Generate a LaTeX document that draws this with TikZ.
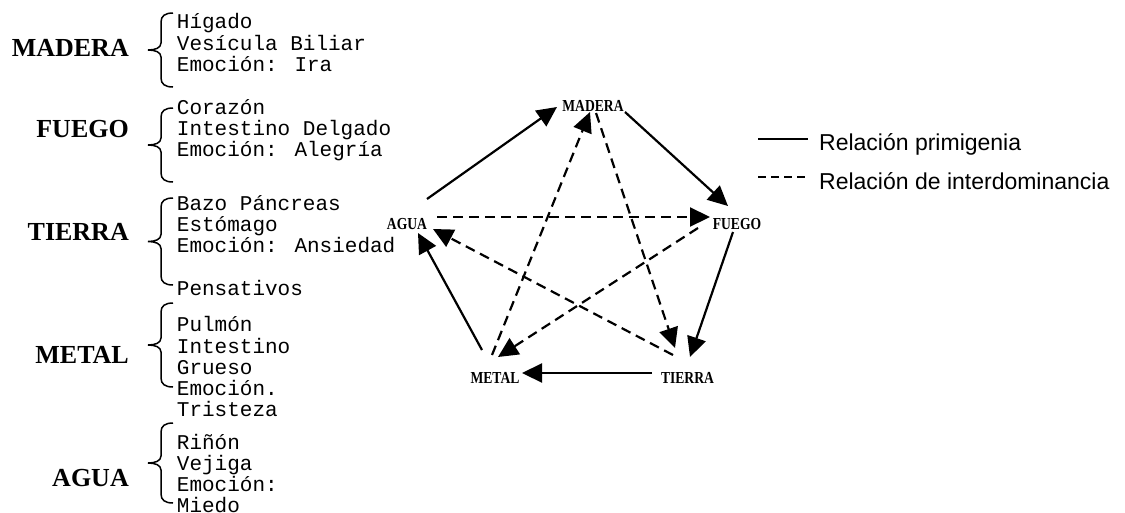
\documentclass[tikz,border=0pt]{standalone}
\usepackage{fontspec}
\setmainfont{Liberation Serif}
\newfontfamily\monof{Liberation Mono}
\newfontfamily\sansf{Liberation Sans}
\usetikzlibrary{arrows.meta,calc}

\newcommand\wbrace[2]{%
  \pgfmathsetmacro\brmid{(#1+#2)/2}%
  \draw[bracestyle] (173,#1) .. controls (165,#1) and (161,#1+3) .. (161,#1+9)
    -- (161,\brmid-7) .. controls (161,\brmid-2) and (155,\brmid) .. (148,\brmid)
    .. controls (155,\brmid) and (161,\brmid+2) .. (161,\brmid+7)
    -- (161,#2-9) .. controls (161,#2-3) and (165,#2) .. (173,#2);}

\tikzset{
  elem/.style={font=\bfseries\fontsize{26}{26}\selectfont, anchor=base east, inner sep=0pt},
  organ/.style={anchor=base west, inner sep=0pt},
  pent/.style={font=\bfseries\fontsize{16}{16}\selectfont, inner sep=0pt},
  conn/.style={line width=2.2pt, -{Triangle[length=20pt,width=19pt]}},
  dconn/.style={conn, dash pattern=on 10pt off 6pt},
  legtext/.style={font=\sansf\fontsize{23}{23}\selectfont, anchor=base west, inner sep=0pt},
  bracestyle/.style={line width=1.5pt},
}
\newcommand\orgtext[1]{\parbox[t]{300pt}{\monof\fontsize{21}{21.3}\selectfont\raggedright #1}}

\begin{document}
\begin{tikzpicture}[x=1pt,y=-1pt]
\useasboundingbox (0,0) rectangle (1125,512);
\clip (0,0) rectangle (1125,512);

% left column: element labels
\node[elem] (lMADERA) at (129,56) {MADERA};
\node[elem] (lFUEGO) at (129,137) {FUEGO};
\node[elem] (lTIERRA) at (129,240) {TIERRA};
\node[elem] (lMETAL) at (129,363) {METAL};
\node[elem] (lAGUA) at (129,486) {AGUA};

% braces
\wbrace{13}{87}
\wbrace{108}{182}
\wbrace{198}{285}
\wbrace{303}{387}
\wbrace{423}{503}

% organ texts
\node[organ] (oMADERA) at (176.7,28.7) {\orgtext{Hígado\\Vesícula Biliar\\Emoción: Ira}};
\node[organ] (oFUEGO) at (176.7,114) {\orgtext{Corazón\\Intestino Delgado\\Emoción: Alegría}};
\node[organ] (oTIERRA) at (176.7,210) {\orgtext{Bazo Páncreas\\Estómago\\Emoción: Ansiedad\\\mbox{}\\Pensativos}};
\node[organ] (oMETAL) at (176.7,331.7) {\orgtext{Pulmón\\Intestino\\Grueso\\Emoción.\\Tristeza}};
\node[organ] (oAGUA) at (176.7,449) {\orgtext{Riñón\\Vejiga\\Emoción:\\Miedo}};

% pentagon nodes
\node[pent] (pMADERA) at (593,105.5) {\scalebox{0.85}[1.05]{MADERA}};
\node[pent] (pAGUA) at (407,224) {\scalebox{0.85}[1.05]{AGUA}};
\node[pent] (pFUEGO) at (737,224) {\scalebox{0.85}[1.05]{FUEGO}};
\node[pent] (pMETAL) at (495,377.5) {\scalebox{0.85}[1.05]{METAL}};
\node[pent] (pTIERRA) at (687.5,377.5) {\scalebox{0.85}[1.05]{TIERRA}};

% solid connectors (generating cycle)
\draw[conn] ($(pAGUA)+(20,-25)$) -- ($(pMADERA)+(-36,1.5)$);
\draw[conn] ($(pMADERA)+(32,6.5)$) -- ($(pFUEGO)+(-9,-18)$);
\draw[conn] ($(pFUEGO)+(-4,8)$) -- ($(pTIERRA)+(2.5,-20.5)$);
\draw[conn] ($(pTIERRA)+(-35.5,-4.5)$) -- ($(pMETAL)+(27,-4.5)$);
\draw[conn] ($(pMETAL)+(-13,-27.5)$) -- ($(pAGUA)+(11,9)$);

% dashed connectors (control cycle)
\draw[dconn] ($(pAGUA)+(30,-7)$) -- ($(pFUEGO)+(-27,-7)$);
\draw[dconn] ($(pTIERRA)+(-14.5,-22.5)$) -- ($(pAGUA)+(26,5)$);
\draw[dconn] ($(pFUEGO)+(-39,4)$) -- ($(pMETAL)+(3,-20.5)$);
\draw[dconn] ($(pMETAL)+(-3,-22.5)$) -- ($(pMADERA)+(-3,6.5)$);
\draw[dconn] ($(pMADERA)+(3,7.5)$) -- ($(pTIERRA)+(-12.5,-29.5)$);

% legend
\node[legtext] (leg1) at (819,150.5) {Relación primigenia};
\node[legtext] (leg2) at (819,189.5) {Relación de interdominancia};
\draw[line width=1.5pt] ($(leg1.base west)+(-61,-11.5)$) -- ($(leg1.base west)+(-11,-11.5)$);
\draw[line width=1.5pt, dash pattern=on 8pt off 5pt] ($(leg2.base west)+(-61,-12.5)$) -- ($(leg2.base west)+(-11,-12.5)$);
\end{tikzpicture}
\end{document}
